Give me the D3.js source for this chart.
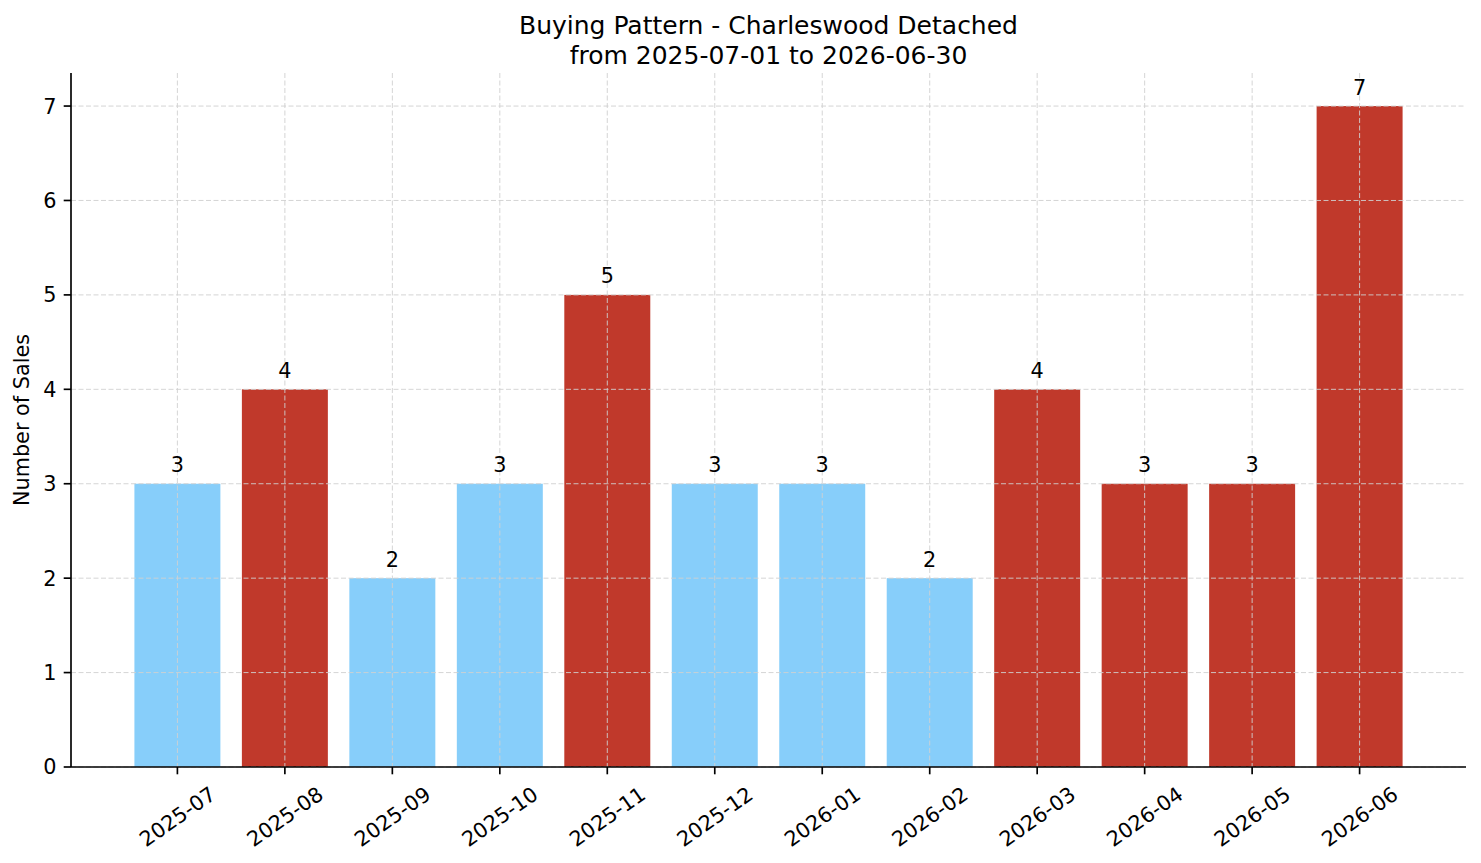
<!DOCTYPE html>
<html><head><meta charset="utf-8">
<script src="https://cdn.jsdelivr.net/npm/d3@7"></script>
<style>body{margin:0;background:#fff}svg{display:block;font-family:"DejaVu Sans",sans-serif}</style>
</head><body><svg id="c" width="1481" height="863"></svg>
<script>
const categories = ["2025-07","2025-08","2025-09","2025-10","2025-11","2025-12","2026-01","2026-02","2026-03","2026-04","2026-05","2026-06"];
const sales = [3,4,2,3,5,3,3,2,4,3,3,7];
const highlight = [false,true,false,false,true,false,false,false,true,true,true,true];
const yTicks = [0,1,2,3,4,5,6,7];
const titleLines = ["Buying Pattern - Charleswood Detached","from 2025-07-01 to 2026-06-30"];
const yLabel = "Number of Sales";

const svg = d3.select("#c");
const L=71, R=1466, T=73, B=767;
const x = d3.scaleLinear().domain([-0.99, 11.99]).range([L,R]);
const y = d3.scaleLinear().domain([0, 7.35]).range([B,T]);
const bw = x(0.4)-x(-0.4);
const fs = 20.8;

// bars
svg.append("g").selectAll("rect").data(sales).join("rect")
  .attr("x",(d,i)=>x(i)-bw/2).attr("width",bw)
  .attr("y",d=>y(d)).attr("height",d=>y(0)-y(d))
  .attr("fill",(d,i)=>highlight[i]?"#c0392b":"#87cefa");

// grid
const g = svg.append("g").attr("stroke","#d0d0d0").attr("stroke-width",0.9).attr("stroke-dasharray","5,2.5");
g.selectAll("line.h").data(yTicks).join("line").attr("x1",L).attr("x2",R).attr("y1",d=>y(d)).attr("y2",d=>y(d));
g.selectAll("line.v").data(categories).join("line").attr("x1",(d,i)=>x(i)).attr("x2",(d,i)=>x(i)).attr("y1",T).attr("y2",B);

// bar labels
svg.append("g").selectAll("text").data(sales).join("text")
  .attr("x",(d,i)=>x(i)).attr("y",d=>y(d)-11.5).attr("text-anchor","middle")
  .attr("font-size",fs).attr("fill","#000").text(d=>d);

// spines
svg.append("line").attr("x1",L).attr("x2",L).attr("y1",T).attr("y2",B).attr("stroke","#000").attr("stroke-width",1.67);
svg.append("line").attr("x1",L).attr("x2",R).attr("y1",B).attr("y2",B).attr("stroke","#000").attr("stroke-width",1.67);

// y ticks
const yt = svg.append("g");
yTicks.forEach(t=>{
  yt.append("line").attr("x1",L-7.3).attr("x2",L).attr("y1",y(t)).attr("y2",y(t)).attr("stroke","#000").attr("stroke-width",1.67);
  yt.append("text").attr("x",L-14.6).attr("y",y(t)).attr("dy","0.36em").attr("text-anchor","end").attr("font-size",fs).text(t);
});

// x ticks
const xt = svg.append("g");
const ang = 35*Math.PI/180;
categories.forEach((c,i)=>{
  xt.append("line").attr("x1",x(i)).attr("x2",x(i)).attr("y1",B).attr("y2",B+7.3).attr("stroke","#000").attr("stroke-width",1.67);
  const t = xt.append("text").attr("font-size",fs).attr("text-anchor","middle").text(c);
  const len = t.node().getComputedTextLength();
  const h = fs*1.16;
  const bh = len*Math.sin(ang)+h*Math.cos(ang);
  const cx = x(i), cy = B+14.6+bh/2;
  t.attr("x",0).attr("y",0).attr("dy","0.36em").attr("transform",`translate(${cx},${cy}) rotate(-35)`);
});

// y label
svg.append("text").attr("transform",`translate(29,${(T+B)/2}) rotate(-90)`).attr("text-anchor","middle")
  .attr("font-size",fs).text(yLabel);

// title
svg.append("g").selectAll("text").data(titleLines).join("text")
  .attr("x",(L+R)/2).attr("y",(d,i)=>34+i*29.5).attr("text-anchor","middle").attr("font-size",25).text(d=>d);
</script></body></html>
